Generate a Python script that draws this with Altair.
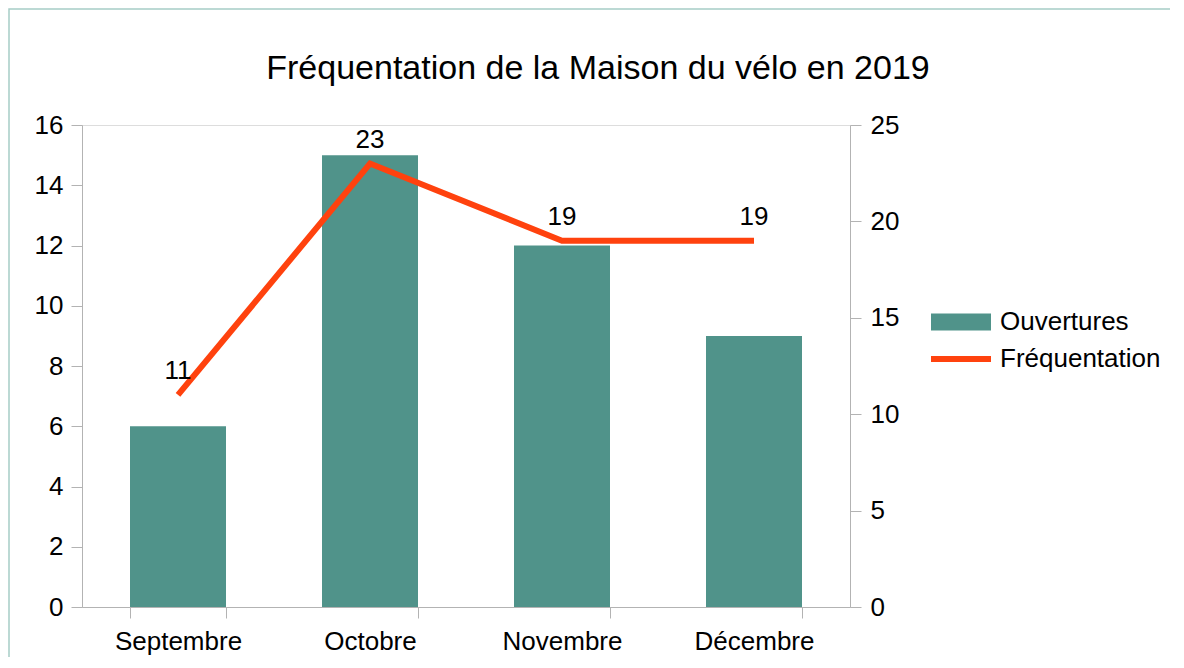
import altair as alt
import pandas as pd

# ---- data ----
months = ["Septembre", "Octobre", "Novembre", "Décembre"]
ouvertures = [6, 15, 12, 9]
frequentation = [11, 23, 19, 19]
left_ticks = [0, 2, 4, 6, 8, 10, 12, 14, 16]
right_ticks = [0, 5, 10, 15, 20, 25]
title_text = "Fréquentation de la Maison du vélo en 2019"
series_bar = "Ouvertures"
series_line = "Fréquentation"

df = pd.DataFrame({"mois": months, "ouvertures": ouvertures, "frequentation": frequentation})

FONT = "Liberation Sans"
TEAL = "#50938a"
ORANGE = "#ff420e"
AXIS = "#b3b3b3"
FRAME = "#a6cdc6"
FS = 26

x_enc = alt.X(
    "mois:N", sort=months, title=None,
    scale=alt.Scale(paddingInner=0.5, paddingOuter=0.25),
    axis=alt.Axis(labelAngle=0, tickBand="extent", tickSize=11, labelPadding=10,
                  domainColor=AXIS, tickColor=AXIS, labelFontSize=FS, labelFont=FONT,
                  labelColor="black", grid=False),
)

bars = alt.Chart(df).transform_calculate(serie=f"'{series_bar}'").mark_bar().encode(
    x=x_enc,
    y=alt.Y("ouvertures:Q", title=None, scale=alt.Scale(domain=[0, 16], nice=False, zero=True),
            axis=alt.Axis(values=left_ticks, tickSize=11, labelPadding=8, domainColor=AXIS,
                          tickColor=AXIS, labelFontSize=FS, labelFont=FONT, labelColor="black",
                          grid=False)),
    fill=alt.Fill("serie:N", scale=alt.Scale(domain=[series_bar], range=[TEAL]),
                  legend=alt.Legend(title=None, orient="none", legendX=866, legendY=184,
                                    symbolType="M-6,-1.7H6V1.7H-6Z", symbolSize=100,
                                    symbolStrokeWidth=0, labelOffset=26, padding=0,
                                    labelLimit=400,
                                    labelFontSize=FS, labelFont=FONT, labelColor="black")),
)

y_right = alt.Y("frequentation:Q", title=None, scale=alt.Scale(domain=[0, 25], nice=False, zero=True),
                axis=alt.Axis(orient="right", values=right_ticks, tickSize=11, labelPadding=9,
                              domainColor=AXIS, tickColor=AXIS, labelFontSize=FS, labelFont=FONT,
                              labelColor="black", grid=False))

line = alt.Chart(df).transform_calculate(serie=f"'{series_line}'").mark_line(strokeWidth=6).encode(
    x=x_enc,
    y=y_right,
    stroke=alt.Stroke("serie:N", scale=alt.Scale(domain=[series_line], range=[ORANGE]),
                      legend=alt.Legend(title=None, orient="none", legendX=866, legendY=221,
                                        symbolType="M-6,0H6", symbolSize=100, symbolStrokeWidth=6,
                                        labelOffset=26, padding=0, labelLimit=400,
                                        labelFontSize=FS, labelFont=FONT, labelColor="black")),
)

labels = alt.Chart(df).mark_text(dy=-24, fontSize=FS, font=FONT, color="black").encode(
    x=x_enc,
    y=alt.Y("frequentation:Q", scale=alt.Scale(domain=[0, 25], nice=False, zero=True)),
    text="frequentation:Q",
)

frame = alt.Chart(pd.DataFrame({"k": [0]})).mark_rect(filled=False, stroke=FRAME, strokeWidth=1.5).encode(
    x=alt.value(-73), x2=alt.value(1200), y=alt.value(-116), y2=alt.value(700)
)

right = alt.layer(line, labels)

chart = alt.layer(frame, bars, right).resolve_scale(y="independent").properties(
    width=768, height=482,
    title=alt.TitleParams(title_text, fontSize=34, font=FONT, fontWeight="normal",
                          color="black", anchor="middle", frame="group", dx=132, offset=-78),
    autosize=alt.AutoSizeParams(type="none"),
    padding={"left": 74, "top": 117, "right": 320, "bottom": 50},
).configure_view(stroke=AXIS, strokeWidth=1).configure(background="white")

chart.save("out.html", embed_options={"renderer": "svg", "actions": False})
